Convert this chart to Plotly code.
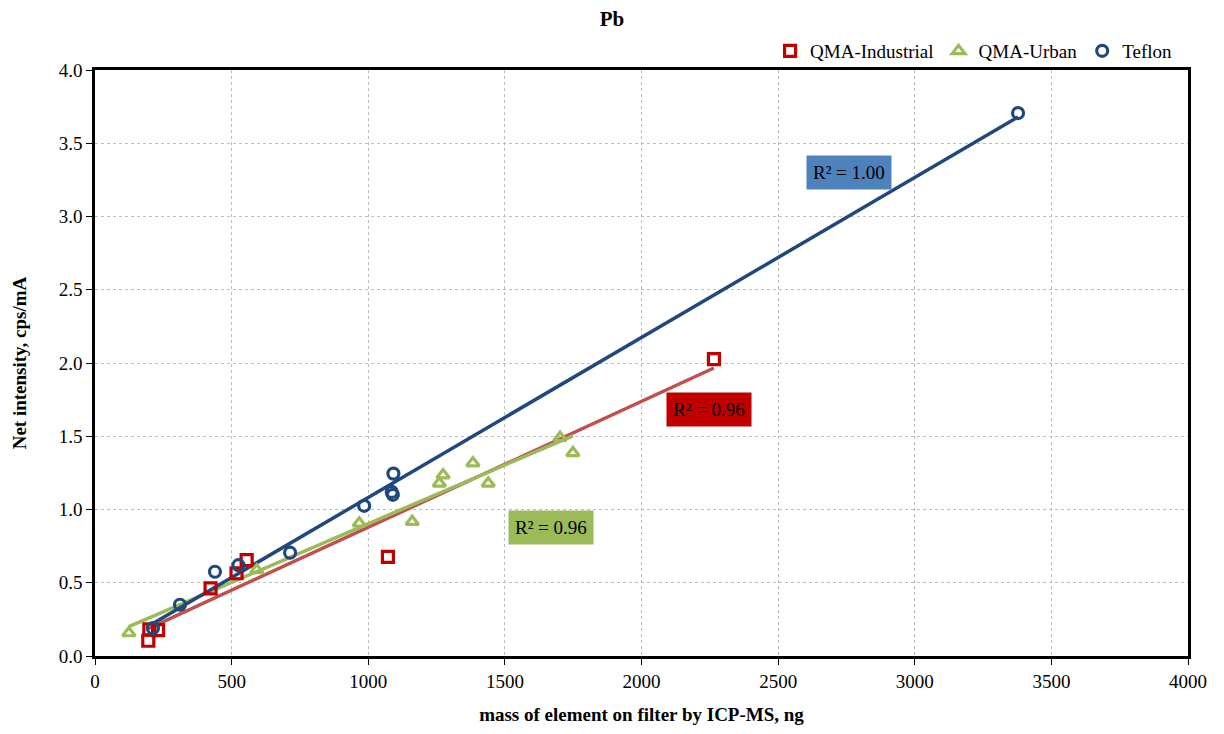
import numpy as np
import plotly.graph_objects as go

# Pb: net XRF intensity vs. mass measured by ICP-MS
ind_mass = [195, 199, 231, 423, 518, 555, 1072, 2265]
ind_int = [0.104, 0.182, 0.177, 0.462, 0.565, 0.655, 0.676, 2.027]

urb_mass = [124, 592, 967, 1161, 1260, 1274, 1383, 1439, 1702, 1749]
urb_int = [0.157, 0.587, 0.906, 0.917, 1.179, 1.235, 1.317, 1.179, 1.49, 1.386]

tef_mass = [212, 311, 439, 525, 714, 985, 1086, 1090, 1092, 3378]
tef_int = [0.19, 0.35, 0.575, 0.62, 0.705, 1.025, 1.12, 1.10, 1.245, 3.706]

r2_labels = ["R² = 0.96", "R² = 0.96", "R² = 1.00"]

FONT = "Liberation Serif"

series = [
    ("QMA-Industrial", ind_mass, ind_int, "square-open", "#C00000", "#C0504D", r2_labels[0], "#C00000", (2247, 1.68)),
    ("QMA-Urban", urb_mass, urb_int, "triangle-up-open", "#9BBB59", "#9BBB59", r2_labels[1], "#9BBB59", (1669, 0.874)),
    ("Teflon", tef_mass, tef_int, "circle-open", "#1F497D", "#1F497D", r2_labels[2], "#4F81BD", (2759, 3.30)),
]

fig = go.Figure()
annotations = []
line_traces, marker_traces = [], []
for name, xs, ys, sym, mcol, lcol, lab, bg, pos in series:
    x = np.array(xs, float)
    y = np.array(ys, float)
    k, b = np.polyfit(x, y, 1)
    xl = np.array([x.min(), x.max()])
    line_traces.append(go.Scatter(x=xl, y=k * xl + b, mode="lines",
                                  line=dict(color=lcol, width=3.5),
                                  showlegend=False, hoverinfo="skip"))
    marker_traces.append(go.Scatter(x=xs, y=ys, mode="markers", name=name,
                                    marker=dict(symbol=sym, size=11, color=mcol,
                                                line=dict(color=mcol, width=3.2))))
    annotations.append(dict(x=pos[0], y=pos[1], xref="x", yref="y", text=lab,
                            showarrow=False, bgcolor=bg, borderpad=6,
                            font=dict(family=FONT, size=19, color="black")))

# trend lines first, markers drawn on top
for t in line_traces + marker_traces:
    fig.add_trace(t)

axis_common = dict(showline=True, linecolor="black", linewidth=2.5, mirror=True,
                   ticks="outside", ticklen=6, tickcolor="black",
                   showgrid=True, gridcolor="#BDBDBD", griddash="dot", gridwidth=1,
                   zeroline=False, tickfont=dict(family=FONT, size=19, color="black"))

fig.update_layout(
    width=1224, height=734,
    margin=dict(l=95, r=36, t=70, b=78),
    paper_bgcolor="white", plot_bgcolor="white",
    title=dict(text="<b>Pb</b>", x=0.5, xanchor="center", y=0.985, yanchor="top",
               font=dict(family=FONT, size=21, color="black")),
    xaxis=dict(range=[0, 4000], dtick=500,
               title=dict(text="<b>mass of element on filter by ICP-MS, ng</b>",
                          font=dict(family=FONT, size=19, color="black"), standoff=18),
               **axis_common),
    yaxis=dict(range=[0, 4.0], dtick=0.5, tickformat=".1f",
               title=dict(text="<b>Net intensity, cps/mA</b>",
                          font=dict(family=FONT, size=19, color="black"), standoff=28),
               **axis_common),
    legend=dict(orientation="h", x=0.99, xanchor="right", y=1.0, yanchor="bottom",
                font=dict(family=FONT, size=19, color="black"),
                itemwidth=30, bgcolor="rgba(0,0,0,0)"),
    annotations=annotations,
    showlegend=True,
)

fig.write_html("out.html")
